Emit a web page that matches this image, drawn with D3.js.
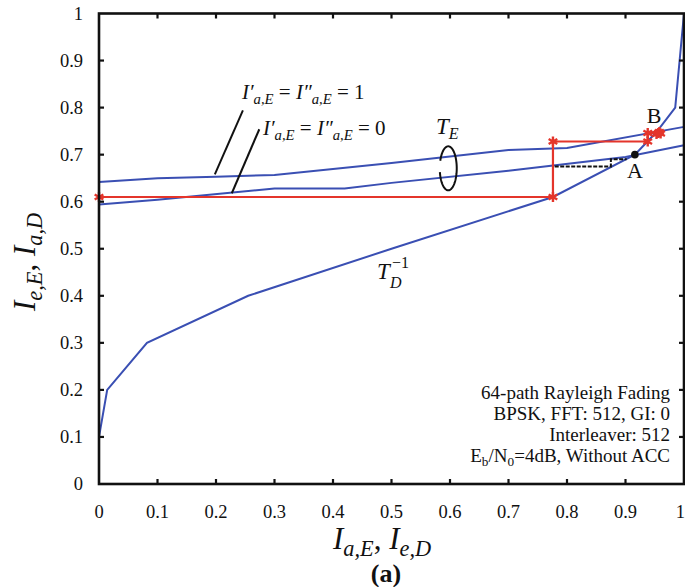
<!DOCTYPE html>
<html><head><meta charset="utf-8">
<script src="https://cdn.jsdelivr.net/npm/d3@7"></script>
<style>body{margin:0;background:#fff;} svg{display:block;} text{font-family:"Liberation Serif","Times New Roman",serif;fill:#111;}</style>
</head><body>
<svg id="c" width="685" height="587"></svg>
<script>
// ---- data ----
const xTicks = [0,0.1,0.2,0.3,0.4,0.5,0.6,0.7,0.8,0.9,1];
const yTicks = [0,0.1,0.2,0.3,0.4,0.5,0.6,0.7,0.8,0.9,1];
const tdInvX = [0,0,0.014,0.082,0.255,0.5,0.776,0.916,0.953,0.985,1];
const tdInvY = [0,0.10,0.20,0.30,0.40,0.50,0.61,0.70,0.748,0.80,1];
const teUpX = [0,0.1,0.2,0.3,0.5,0.7,0.8,1];
const teUpY = [0.642,0.650,0.653,0.657,0.682,0.710,0.714,0.759];
const teLoX = [0,0.1,0.3,0.42,0.5,0.7,0.9,1];
const teLoY = [0.594,0.604,0.628,0.628,0.640,0.666,0.695,0.720];
const trajX = [0,0.776,0.776,0.938,0.938,0.956];
const trajY = [0.61,0.61,0.728,0.728,0.746,0.746];
const dashX = [0.779,0.875,0.875,0.902];
const dashY = [0.675,0.675,0.690,0.690];
const pointA = [0.916,0.700];
const infoLines = ["64-path Rayleigh Fading","BPSK, FFT: 512, GI: 0","Interleaver: 512"];

// ---- drawing ----
const svg = d3.select("#c");
const x = d3.scaleLinear().domain([0,1]).range([99,684]);
const y = d3.scaleLinear().domain([0,1]).range([484,13.5]);
const blue = "#3a4fb3", red = "#e4352b";
const fmt = d => d===0?"0":(d===1?"1":d3.format(".1f")(d));

const line = d3.line().x(d=>x(d[0])).y(d=>y(d[1]));
const zip = (a,b)=>a.map((v,i)=>[v,b[i]]);

// curves
svg.append("path").attr("d",line(zip(teUpX,teUpY))).attr("fill","none").attr("stroke",blue).attr("stroke-width",2);
svg.append("path").attr("d",line(zip(teLoX,teLoY))).attr("fill","none").attr("stroke",blue).attr("stroke-width",2);
svg.append("path").attr("d",line(zip(tdInvX,tdInvY))).attr("fill","none").attr("stroke",blue).attr("stroke-width",2);

// dashed black trajectory
svg.append("path").attr("d",line(zip(dashX,dashY))).attr("fill","none").attr("stroke","#111").attr("stroke-width",2).attr("stroke-dasharray","4,1.5");

// red trajectory
svg.append("path").attr("d",line(zip(trajX,trajY))).attr("fill","none").attr("stroke",red).attr("stroke-width",2.2);
const star = d3.symbol().type(d3.symbolAsterisk).size(70);
const starPts = zip(trajX,trajY).concat([[0.953,0.744],[0.958,0.748],[0.96,0.745]]);
svg.selectAll(".st").data(starPts).join("path").attr("class","st")
  .attr("transform",d=>`translate(${x(d[0])},${y(d[1])})`).attr("d",star)
  .attr("fill","none").attr("stroke",red).attr("stroke-width",2.4);

// point A
svg.append("circle").attr("cx",x(pointA[0])).attr("cy",y(pointA[1])).attr("r",3.8).attr("fill","#111");
svg.append("text").attr("x",635).attr("y",178).attr("text-anchor","middle").attr("font-size",22).text("A");
svg.append("text").attr("x",654).attr("y",123).attr("text-anchor","middle").attr("font-size",22).text("B");

// axes frame
const g = svg.append("g");
g.append("rect").attr("x",x(0)).attr("y",y(1)).attr("width",x(1)-x(0)).attr("height",y(0)-y(1))
  .attr("fill","none").attr("stroke","#111").attr("stroke-width",2.6);
const tl = 5;
xTicks.slice(1,-1).forEach(t=>{
  g.append("line").attr("x1",x(t)).attr("x2",x(t)).attr("y1",y(0)).attr("y2",y(0)-tl).attr("stroke","#111").attr("stroke-width",2.2);
  g.append("line").attr("x1",x(t)).attr("x2",x(t)).attr("y1",y(1)).attr("y2",y(1)+tl).attr("stroke","#111").attr("stroke-width",2.2);
});
yTicks.slice(1,-1).forEach(t=>{
  g.append("line").attr("y1",y(t)).attr("y2",y(t)).attr("x1",x(0)).attr("x2",x(0)+tl).attr("stroke","#111").attr("stroke-width",2.2);
  g.append("line").attr("y1",y(t)).attr("y2",y(t)).attr("x1",x(1)).attr("x2",x(1)-tl).attr("stroke","#111").attr("stroke-width",2.2);
});
// tick labels
svg.selectAll(".xt").data(xTicks).join("text").attr("class","xt")
  .attr("x",d=>d===1?685:x(d)).attr("y",518).attr("text-anchor",d=>d===1?"end":"middle").attr("font-size",18.5).text(fmt);
svg.selectAll(".yt").data(yTicks).join("text").attr("class","yt")
  .attr("x",83).attr("y",d=>y(d)+6).attr("text-anchor","end").attr("font-size",18.5).text(fmt);

// math helper
function mathText(parent, xx, yy, size, parts, anchor){
  const t = parent.append("text").attr("x",xx).attr("y",yy).attr("font-size",size).attr("text-anchor",anchor||"start");
  parts.forEach(p=>{
    const s = t.append("tspan").text(p.t);
    if(p.i) s.attr("font-style","italic");
    const r = p.r || 0.7;
    if(p.sub){ s.attr("font-size",size*r).attr("dy",p.dy!==undefined?p.dy:size*0.25); }
    else if(p.sup){ s.attr("font-size",size*r).attr("dy",p.dy!==undefined?p.dy:-size*0.4); }
    else if(p.dy!==undefined) s.attr("dy",p.dy);
    if(p.dx!==undefined) s.attr("dx",p.dx);
  });
  return t;
}

// axis titles
mathText(svg, 333, 549, 31, [
  {t:"I",i:1},{t:"a,E",i:1,sub:1,dy:7,r:0.72},{t:", ",dy:-7},{t:"I",i:1},{t:"e,D",i:1,sub:1,dy:7,r:0.72}
]);
svg.append("text").attr("x",386).attr("y",582).attr("text-anchor","middle").attr("font-size",26).attr("font-weight","bold").text("(a)");
const yt = svg.append("g").attr("transform","translate(35,311) rotate(-90)");
mathText(yt, 0, 0, 31, [
  {t:"I",i:1},{t:"e,E",i:1,sub:1,dy:7,r:0.72},{t:", ",dy:-7},{t:"I",i:1},{t:"a,D",i:1,sub:1,dy:7,r:0.72}
]);

// curve labels
mathText(svg, 242, 99, 21, [
  {t:"I′",i:1},{t:"a,E",i:1,sub:1,dy:5},{t:" = ",dy:-5},{t:"I″",i:1},{t:"a,E",i:1,sub:1,dy:5},{t:" = 1",dy:-5}
]);
mathText(svg, 263, 135, 21, [
  {t:"I′",i:1},{t:"a,E",i:1,sub:1,dy:5},{t:" = ",dy:-5},{t:"I″",i:1},{t:"a,E",i:1,sub:1,dy:5},{t:" = 0",dy:-5}
]);
svg.append("line").attr("x1",x(0.246)).attr("y1",y(0.794)).attr("x2",x(0.198)).attr("y2",y(0.658)).attr("stroke","#111").attr("stroke-width",2);
svg.append("line").attr("x1",x(0.274)).attr("y1",y(0.754)).attr("x2",x(0.227)).attr("y2",y(0.618)).attr("stroke","#111").attr("stroke-width",2);

mathText(svg, 436, 134, 23, [{t:"T",i:1},{t:"E",i:1,sub:1,dy:5}]);
// loop around T_E curves
const cx = x(0.597), cy = y(0.671), rx = 8.5, ry = 22;
const arc = d3.range(0,331,5).map(a=>{const r=(a+200)*Math.PI/180; return [cx+rx*Math.cos(r), cy+ry*Math.sin(r)];});
svg.append("path").attr("d",d3.line()(arc)).attr("fill","none").attr("stroke","#111").attr("stroke-width",2);

// T_D^{-1}
svg.append("text").attr("x",377).attr("y",279).attr("font-size",23).attr("font-style","italic").text("T");
svg.append("text").attr("x",392).attr("y",268).attr("font-size",16).text("−1");
svg.append("text").attr("x",390).attr("y",288).attr("font-size",16).attr("font-style","italic").text("D");

// info block
const info = svg.append("g");
infoLines.forEach((s,i)=>{
  info.append("text").attr("x",670).attr("y",399+i*21).attr("text-anchor","end").attr("font-size",19).text(s);
});
mathText(info, 670, 462, 19, [
  {t:"E"},{t:"b",sub:1,dy:4},{t:"/N",dy:-4},{t:"0",sub:1,dy:4},{t:"=4dB, Without ACC",dy:-4}
], "end");
</script>
</body></html>
